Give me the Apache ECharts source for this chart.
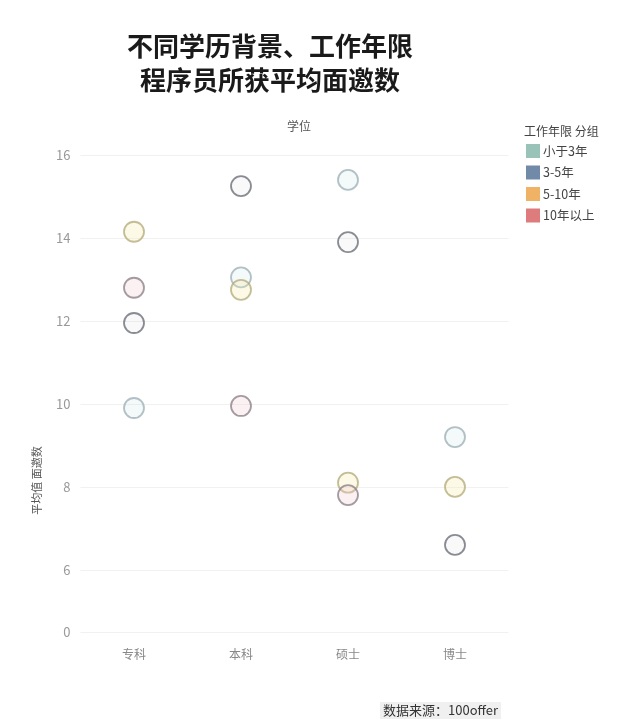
<!DOCTYPE html>
<html>
<head>
<meta charset="utf-8">
<script src="https://cdn.jsdelivr.net/npm/echarts@6/dist/echarts.min.js"></script>
<style>
  html, body { margin: 0; padding: 0; background: #fff; }
  #main { width: 640px; height: 723px; }
</style>
</head>
<body>
<div id="main"></div>
<script>
const degrees = ['专科', '本科', '硕士', '博士'];
const groups = ['小于3年', '3-5年', '5-10年', '10年以上'];
const yTicks = [4.5, 6, 8, 10, 12, 14, 16];

// 平均面邀数，按 degrees 顺序；null 表示没有该组
const under3 = [9.9, 13.05, 15.4, 9.2];
const y3to5 = [11.95, 15.25, 13.9, 6.6];
const y5to10 = [14.15, 12.75, 8.1, 8.0];
const over10 = [12.8, 9.95, 7.8, null];

const legendColors = ['#7fb3a6', '#4d6d92', '#ec9f3e', '#d65a5c'];
const ringColors = ['#9fb2b8', '#6c6f78', '#b5ae7e', '#8d8289'];
const fillColors = ['rgba(200,225,230,0.25)', 'rgba(200,205,215,0.15)', 'rgba(245,235,170,0.35)', 'rgba(245,205,210,0.35)'];
const values = [under3, y3to5, y5to10, over10];

const font = '"Noto Sans CJK SC", "Noto Sans", sans-serif';

const chart = echarts.init(document.getElementById('main'));

chart.setOption({
  backgroundColor: '#fff',
  textStyle: { fontFamily: font },
  animation: false,
  title: [
    {
      text: '不同学历背景、工作年限\n程序员所获平均面邀数',
      left: 265,
      top: 24,
      textAlign: 'center',
      textStyle: { fontSize: 26, fontWeight: 'bold', color: '#1a1a1a', lineHeight: 34, fontFamily: font },
    },
    {
      text: '学位',
      left: 294,
      top: 115,
      textAlign: 'center',
      textStyle: { fontSize: 12, fontWeight: 'normal', color: '#555', fontFamily: font },
    },
    {
      text: '工作年限 分组',
      left: 519,
      top: 120,
      textStyle: { fontSize: 12, fontWeight: 'normal', color: '#444', fontFamily: font },
    },
    {
      text: '数据来源：100offer',
      left: 380,
      top: 702,
      backgroundColor: '#f0f0f0',
      padding: [2, 3],
      textStyle: { fontSize: 13, fontWeight: 'normal', color: '#333', fontFamily: font },
    },
  ],
  legend: {
    orient: 'vertical',
    left: 521,
    top: 139,
    itemWidth: 14,
    itemHeight: 14,
    itemGap: 7.5,
    icon: 'rect',
    data: groups.map((g, i) => ({ name: g, itemStyle: { color: legendColors[i], borderWidth: 0 } })),
    textStyle: { fontSize: 12.5, color: '#444', padding: [0, 0, 0, -2] },
  },
  grid: { left: 80.5, right: 131.5, top: 155, bottom: 91 },
  xAxis: {
    type: 'category',
    data: degrees,
    boundaryGap: true,
    axisLine: { show: false },
    axisTick: { show: false },
    axisLabel: { color: '#888', fontSize: 12, margin: 16 },
    splitLine: { show: false },
  },
  yAxis: {
    type: 'value',
    min: 4.5,
    max: 16,
    name: '平均值 面邀数',
    nameLocation: 'middle',
    nameRotate: 90,
    nameGap: 38,
    nameTextStyle: { color: '#555', fontSize: 11, padding: [0, 174, 0, 0] },
    axisLine: { show: false },
    axisTick: { show: false, customValues: yTicks },
    axisLabel: {
      customValues: yTicks,
      color: '#999',
      fontSize: 13,
      margin: 10,
      formatter: (v) => (v === 4.5 ? '0' : String(v)),
    },
    splitLine: { show: true, lineStyle: { color: '#f1f1f1', width: 1 } },
  },
  series: groups.map((g, i) => ({
    name: g,
    type: 'scatter',
    symbol: 'circle',
    symbolSize: 20,
    data: values[i],
    itemStyle: {
      color: fillColors[i],
      borderColor: ringColors[i],
      borderWidth: 1.8,
    },
  })),
});
</script>
</body>
</html>
